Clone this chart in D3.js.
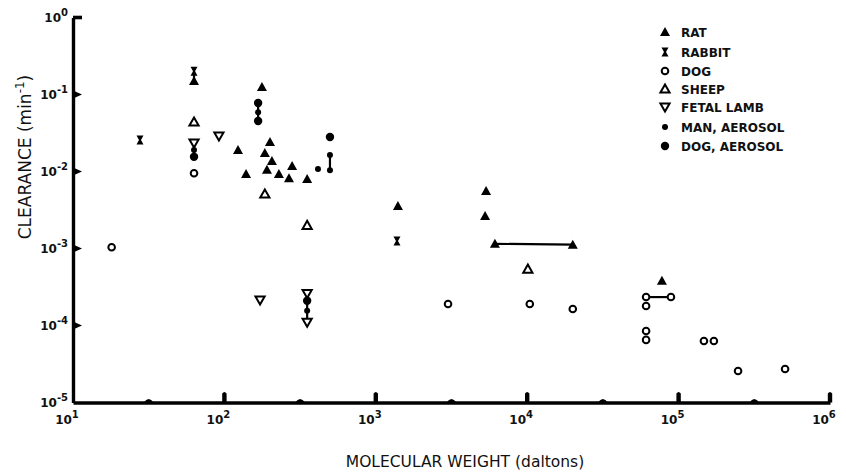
<!DOCTYPE html>
<html><head><meta charset="utf-8">
<script src="https://cdn.jsdelivr.net/npm/d3@7"></script>
<style>
html,body{margin:0;padding:0;background:#fff;}
svg{display:block;}
text{fill:#111;}
</style></head>
<body><div id="chart"></div>
<script>
// ---- DATA (molecular weight in daltons, clearance in min^-1) ----
const rat = [[63,0.150],[177,0.125],[123,0.019],[200,0.0242],[185,0.0174],[206,0.0137],[280,0.0118],
  [191,0.0105],[139,0.0093],[229,0.0093],[267,0.0082],[352,0.0080],[1400,0.00356],[5350,0.00558],
  [5270,0.00264],[6120,0.00115],[20000,0.00112],[77600,0.00038]];
const rabbit = [[63,0.20],[27.7,0.0256],[1380,0.00125]];
const dog = [[18,0.00104],[63,0.0095],[3000,1.9e-4],[10400,1.9e-4],[20000,1.64e-4],[61000,2.34e-4],
  [61000,1.79e-4],[89000,2.34e-4],[61000,8.5e-5],[61000,6.5e-5],[147000,6.3e-5],[171000,6.3e-5],
  [247000,2.57e-5],[505000,2.72e-5]];
const sheep = [[63,0.044],[185,0.0051],[352,0.0020],[10100,5.4e-4]];
const fetalLamb = [[92,0.0289],[63,0.0234],[172,2.14e-4],[352,2.6e-4],[352,1.1e-4]];
const manAerosol = [[415,0.0108],[498,0.0164],[498,0.0104],[63,0.0190],[167,0.059],[352,1.55e-4]];
const dogAerosol = [[498,0.028],[63,0.0155],[167,0.0776],[167,0.0453],[352,2.1e-4]];
// connecting segments between related measurements
const links = [
  [[63,0.20],[63,0.150]],
  [[63,0.0234],[63,0.0155]],
  [[167,0.0776],[167,0.0453]],
  [[498,0.0164],[498,0.0104]],
  [[352,2.6e-4],[352,1.1e-4]],
  [[6120,0.00115],[20000,0.00112]],
  [[61000,2.34e-4],[89000,2.34e-4]]
];
const xDecades = [1e1,1e2,1e3,1e4,1e5,1e6];
const xHalf = [10**1.5,10**2.5,10**3.5,10**4.5,10**5.5];
const yDecades = [1,1e-1,1e-2,1e-3,1e-4,1e-5];
const xTickExp = ["1","2","3","4","5","6"];
const yTickExp = ["0","-1","-2","-3","-4","-5"];
const legendLabels = ["RAT","RABBIT","DOG","SHEEP","FETAL LAMB","MAN, AEROSOL","DOG, AEROSOL"];
const xTitle = "MOLECULAR WEIGHT (daltons)";
const yTitle = "CLEARANCE (min";

// ---- DRAW ----
const W = 846, H = 473;
const svg = d3.select("#chart").append("svg").attr("width", W).attr("height", H);
svg.append("rect").attr("width", W).attr("height", H).attr("fill", "#fff");

const x = d3.scaleLog().domain([10, 1e6]).range([73, 830]);
const y = d3.scaleLog().domain([1e-5, 1]).range([402.5, 17.5]);
const x0 = x.range()[0], yB = y.range()[0], yT = y.range()[1];
const FONT = "'DejaVu Sans', sans-serif";

// axes via d3 axis generators (ticks restyled below)
const gx = svg.append("g").attr("transform", `translate(0,${yB})`)
  .call(d3.axisBottom(x).tickValues(xDecades).tickSize(0).tickFormat(""));
const gy = svg.append("g").attr("transform", `translate(${x0},0)`)
  .call(d3.axisLeft(y).tickValues(yDecades).tickSize(0).tickFormat(""));
[gx, gy].forEach(g => g.select(".domain").attr("stroke", "#000").attr("stroke-width", 3.4));

// x decade ticks (upward)
svg.append("g").selectAll("path").data(xDecades.slice(1)).join("path")
  .attr("d", d => { const c = x(d); return `M${c-2.2},${yB} L${c-2.2},${yB-9} Q${c},${yB-12} ${c+2.2},${yB-9} L${c+2.2},${yB} Z`; })
  .attr("fill", "#000");
// half-decade bumps
svg.append("g").selectAll("path").data(xHalf).join("path")
  .attr("d", d => { const c = x(d); return `M${c-5},${yB} Q${c},${yB-7} ${c+5},${yB} Z`; })
  .attr("fill", "#000");
// y decade ticks (pointing right)
svg.append("g").selectAll("path").data(yDecades.slice(0, 5)).join("path")
  .attr("d", (d, i) => { const c = y(d); return i === 0 ? `M${x0},${c-1.8} L${x0+9},${c-1.8} L${x0+9},${c+1.8} L${x0},${c+1.8} Z`
        : `M${x0},${c-4} L${x0+9},${c} L${x0},${c+4} Z`; })
  .attr("fill", "#000");

// tick labels
const xl = svg.append("g").selectAll("text").data(xDecades).join("text")
  .attr("x", d => x(d) - 6).attr("y", yB + 21)
  .attr("text-anchor", "middle").attr("font-family", FONT).attr("font-size", 12).attr("font-weight", "bold");
xl.append("tspan").text("10");
xl.append("tspan").attr("dy", -6).attr("font-size", 10).text((d, i) => xTickExp[i]);

const yl = svg.append("g").selectAll("text").data(yDecades).join("text")
  .attr("x", x0 - 5).attr("y", d => y(d) + 4)
  .attr("text-anchor", "end").attr("font-family", FONT).attr("font-size", 12).attr("font-weight", "bold");
yl.append("tspan").text("10");
yl.append("tspan").attr("dy", -6).attr("font-size", 10).text((d, i) => yTickExp[i]);

// axis titles
svg.append("text").attr("x", 465).attr("y", 467).attr("text-anchor", "middle")
  .attr("font-family", FONT).attr("font-size", 15.5).text(xTitle);
const yt = svg.append("text").attr("transform", "translate(31,157) rotate(-90)").attr("text-anchor", "middle")
  .attr("font-family", FONT).attr("font-size", 17);
yt.append("tspan").text(yTitle);
yt.append("tspan").attr("dy", -7).attr("font-size", 12).text("-1");
yt.append("tspan").attr("dy", 7).text(")");

// connecting lines
svg.append("g").selectAll("line").data(links).join("line")
  .attr("x1", d => x(d[0][0])).attr("y1", d => y(d[0][1]))
  .attr("x2", d => x(d[1][0])).attr("y2", d => y(d[1][1]))
  .attr("stroke", "#000").attr("stroke-width", 2.2);

// marker shapes
const triUp = "M0,-5 L5,4 L-5,4 Z";
const triUpOpen = "M0,-4.5 L4.6,3.6 L-4.6,3.6 Z";
const triDown = "M0,4.5 L4.6,-3.6 L-4.6,-3.6 Z";
const hourglass = "M-3.5,-4.5 L3.5,-4.5 L1,0 L3.5,4.5 L-3.5,4.5 L-1,0 Z";

const series = [
  {data: rat, draw: g => g.append("path").attr("d", triUp).attr("fill", "#000")},
  {data: rabbit, draw: g => g.append("path").attr("d", hourglass).attr("fill", "#000")},
  {data: dog, draw: g => g.append("circle").attr("r", 3.3).attr("fill", "#fff").attr("stroke", "#000").attr("stroke-width", 2)},
  {data: sheep, draw: g => g.append("path").attr("d", triUpOpen).attr("fill", "#fff").attr("stroke", "#000").attr("stroke-width", 2)},
  {data: fetalLamb, draw: g => g.append("path").attr("d", triDown).attr("fill", "#fff").attr("stroke", "#000").attr("stroke-width", 2)},
  {data: manAerosol, draw: g => g.append("circle").attr("r", 3).attr("fill", "#000")},
  {data: dogAerosol, draw: g => g.append("circle").attr("r", 4.2).attr("fill", "#000")}
];
series.forEach(s => {
  svg.append("g").selectAll("g").data(s.data).join("g")
    .attr("transform", d => `translate(${x(d[0])},${y(d[1])})`)
    .each(function () { s.draw(d3.select(this)); });
});

// legend
const legY = [32, 52, 71, 89, 107, 127, 146];
const lg = svg.append("g").selectAll("g").data(legendLabels).join("g")
  .attr("transform", (d, i) => `translate(665,${legY[i]})`);
lg.each(function (d, i) { series[i].draw(d3.select(this)); });
lg.append("text").attr("x", 16).attr("y", 4.5).attr("font-family", FONT).attr("font-size", 12)
  .attr("font-weight", "bold").text(d => d);
</script>
</body></html>
